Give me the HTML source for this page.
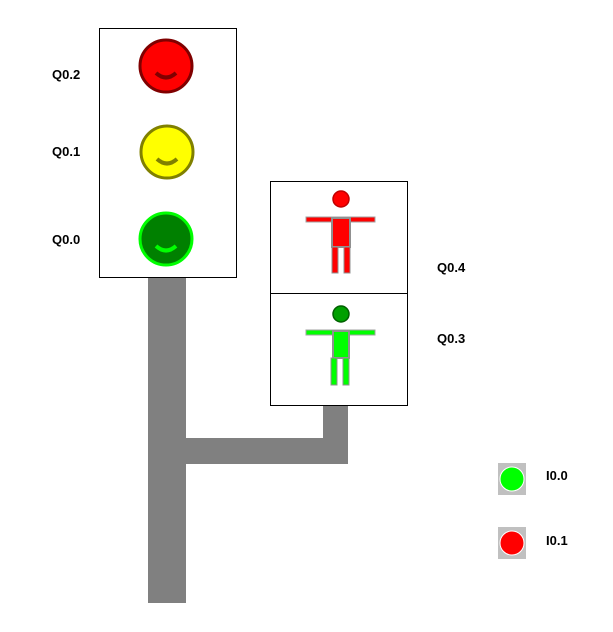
<!DOCTYPE html>
<html><head><style>
body{margin:0;width:613px;height:632px;background:#fff;overflow:hidden;position:relative;font-family:"Liberation Sans",sans-serif}
.l{position:absolute;font-weight:bold;font-size:13px;color:#000}
</style></head><body>
<svg width="613" height="632" style="position:absolute;left:0;top:0">
<!-- pole -->
<rect x="148" y="278" width="38" height="325" fill="#808080"/>
<rect x="186" y="438" width="162" height="26" fill="#808080"/>
<rect x="323" y="403" width="25" height="61" fill="#808080"/>
<!-- traffic light box -->
<rect x="99.5" y="28.5" width="137" height="249" fill="#fff" stroke="#000"/>
<g>
<circle cx="166" cy="66" r="26" fill="#ff0000" stroke="#800000" stroke-width="3"/>
<path d="M156 73 Q166 82 176 73" stroke="#800000" stroke-width="4" fill="none"/>
<circle cx="167" cy="152" r="26" fill="#ffff00" stroke="#808000" stroke-width="3"/>
<path d="M157 159 Q167 168 177 159" stroke="#808000" stroke-width="4" fill="none"/>
<circle cx="166" cy="239" r="26" fill="#008000" stroke="#00ff00" stroke-width="3"/>
<path d="M156 246 Q166 255 176 246" stroke="#00ff00" stroke-width="4" fill="none"/>
</g>
<!-- pedestrian box -->
<rect x="270.5" y="181.5" width="137" height="224" fill="#fff" stroke="#000"/>
<line x1="270" y1="293.5" x2="408" y2="293.5" stroke="#000"/>
<!-- red man -->
<circle cx="341" cy="199" r="8" fill="#ff0000" stroke="#c00000" stroke-width="1.5"/>
<rect x="306" y="217" width="69" height="5" fill="#ff0000" stroke="#a0a0a0" stroke-width="1"/>
<rect x="332" y="218" width="18" height="29" fill="#ff0000" stroke="#909090" stroke-width="2"/>
<rect x="332" y="247" width="6" height="26" fill="#ff0000" stroke="#909090" stroke-width="1"/>
<rect x="344" y="247" width="6" height="26" fill="#ff0000" stroke="#909090" stroke-width="1"/>
<!-- green man -->
<circle cx="341" cy="314" r="8" fill="#00a000" stroke="#006000" stroke-width="1.5"/>
<rect x="306" y="330" width="69" height="5" fill="#00ff00" stroke="#a0a0a0" stroke-width="1"/>
<rect x="333" y="331" width="16" height="27" fill="#00ff00" stroke="#909090" stroke-width="2"/>
<rect x="331" y="358" width="6" height="27" fill="#00ff00" stroke="#909090" stroke-width="1"/>
<rect x="343" y="358" width="6" height="27" fill="#00ff00" stroke="#909090" stroke-width="1"/>
<!-- buttons -->
<rect x="498" y="463" width="28" height="32" fill="#c0c0c0"/>
<circle cx="512" cy="479" r="12" fill="#00ff00" stroke="#fff" stroke-width="1"/>
<rect x="498" y="527" width="28" height="32" fill="#c0c0c0"/>
<circle cx="512" cy="543" r="12" fill="#ff0000" stroke="#fff" stroke-width="1"/>
</svg>
<div class="l" style="left:52px;top:67px">Q0.2</div>
<div class="l" style="left:52px;top:144px">Q0.1</div>
<div class="l" style="left:52px;top:232px">Q0.0</div>
<div class="l" style="left:437px;top:260px">Q0.4</div>
<div class="l" style="left:437px;top:331px">Q0.3</div>
<div class="l" style="left:546px;top:468px">I0.0</div>
<div class="l" style="left:546px;top:533px">I0.1</div>
</body></html>
